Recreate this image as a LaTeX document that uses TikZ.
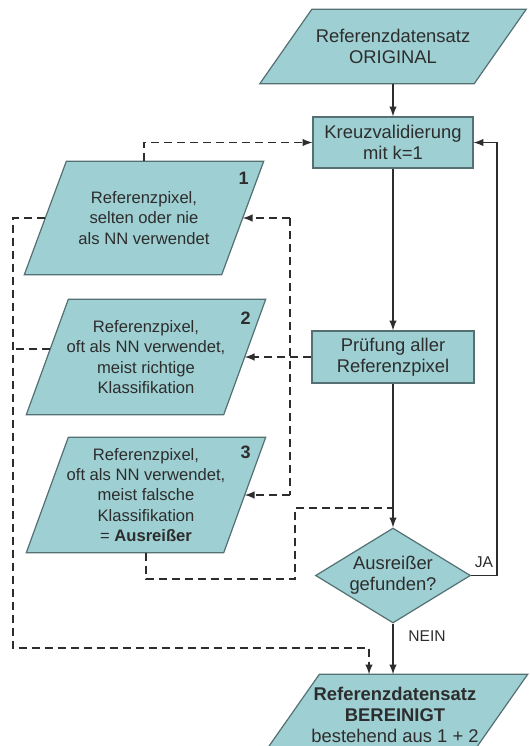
\documentclass[tikz,border=0pt]{standalone}
\usepackage{fontspec}
\setmainfont{Liberation Sans}
\usepackage{tikz}
\usetikzlibrary{arrows}
\usetikzlibrary{positioning}
\usetikzlibrary{shapes.geometric}
\usetikzlibrary{backgrounds}
\definecolor{boxfill}{RGB}{158,207,210}
\definecolor{boxline}{RGB}{84,112,114}
\definecolor{txt}{RGB}{45,45,45}

\begin{document}
\begin{tikzpicture}
	[x=0.5pt,y=-0.5pt,>=latex,line width=0.7pt,draw=txt,
	every node/.style={text=txt,align=center,font=\fontsize{9.2}{10.5}\selectfont},
	rand/.style={draw=boxline,fill=boxfill,line width=0.6pt},
	prozess/.style={rectangle,rand,inner sep=0pt},
	daten/.style={rectangle,inner sep=0pt,minimum width=106.5pt,minimum height=36.5pt},
	pixel/.style={daten,minimum width=98pt,minimum height=57pt,font=\fontsize{8.3}{10.2}\selectfont},
	frage/.style={diamond,aspect=1.6,rand,inner sep=0pt,minimum width=77.5pt,minimum height=47.5pt},
	nr/.style={font=\fontsize{9}{9}\bfseries\selectfont,inner sep=0pt},
	info/.style={font=\fontsize{7.8}{8}\selectfont},
	gestrichelt/.style={dash pattern=on 4pt off 2.5pt}]
	\useasboundingbox (0,0) rectangle (530,746);

	\node[daten] (orig) at (393,46.5) {Referenzdatensatz\\ORIGINAL};
	\node[prozess,minimum width=80pt,minimum height=25.5pt] (kreuz) at (393,142.5) {Kreuzvalidierung\\mit k=1};
	\node[prozess,minimum width=81pt,minimum height=26pt] (pruef) at (393,357) {Prüfung aller\\Referenzpixel};
	\node[frage] (raute) at (393,575.5) {Ausreißer\\gefunden?};
	\node[daten,minimum width=103.5pt,minimum height=40pt] (bereinigt) at (395,715) {\textbf{Referenzdatensatz}\\\textbf{BEREINIGT}\\bestehend aus 1 + 2};

	\node[pixel,minimum height=56pt] (px1) at (144,218) {Referenzpixel,\\selten oder nie\\als NN verwendet};
	\node[pixel] (px2) at (146,357) {Referenzpixel,\\oft als NN verwendet,\\meist richtige\\Klassifikation};
	\node[pixel] (px3) at (146,495) {Referenzpixel,\\oft als NN verwendet,\\meist falsche\\Klassifikation\\= \textbf{Ausreißer}};

	% schraege Datenkaesten hinter den Texten
	\begin{scope}[on background layer]
	\foreach \n/\s in {orig/13pt, bereinigt/14.25pt, px1/10.5pt, px2/10.5pt, px3/10.5pt}
	\draw[rand] ([xshift=\s]\n.north west) -- ([xshift=\s]\n.north east)
		-- ([xshift=-\s]\n.south east) -- ([xshift=-\s]\n.south west) -- cycle;
	\end{scope}

	\node[nr] (nr1) at ([shift={(1,17)}]px1.north east) {1};
	\node[nr] (nr2) at ([shift={(1,19)}]px2.north east) {2};
	\node[nr] (nr3) at ([shift={(1,15)}]px3.north east) {3};

	\coordinate (ja) at (497,0);
	\coordinate (links) at (13,0);
	\coordinate (rechts) at (290,0);
	\coordinate (unten) at (369,648);
	\coordinate (s1) at (295,579);
	\coordinate (s2) at (295,508);
	\coordinate (px2l) at ([shift={(3,-8)}]px2.west);

	% Hauptablauf
	\foreach \von/\nach in {orig/kreuz, kreuz/pruef, pruef/raute}
	\draw[->] (\von) -- (\nach);
	\draw[->] (raute.south) -- node[info,right=4pt,pos=0.25] (nein) {NEIN} (raute.south |- bereinigt.north);
	\draw[->] (raute.east) -- node[info,above] (jalabel) {JA} (raute.east -| ja) |- (kreuz.east);

	% Rueckfuehrung der Pixelklassen
	\draw[gestrichelt,->] (px1.north) |- (kreuz.west);
	\draw[gestrichelt,->] (pruef.west) -- (px2.east);
	\draw[gestrichelt,->] (px1.east -| rechts) -- (px1.east);
	\draw[gestrichelt] (px1.east -| rechts) -- (px3.east -| rechts);
	\draw[gestrichelt,->] (px3.east -| rechts) -- (px3.east);
	\draw[gestrichelt,->] (px1.west) -- (px1.west -| links) -- (links |- unten) -- (unten) -- (unten |- bereinigt.north);
	\draw[gestrichelt] (px2l) -- (px2l -| links);
	\draw[gestrichelt] (px3.south) |- (s1) -- (s2) -- (s2 -| raute.north);
\end{tikzpicture}
\end{document}
